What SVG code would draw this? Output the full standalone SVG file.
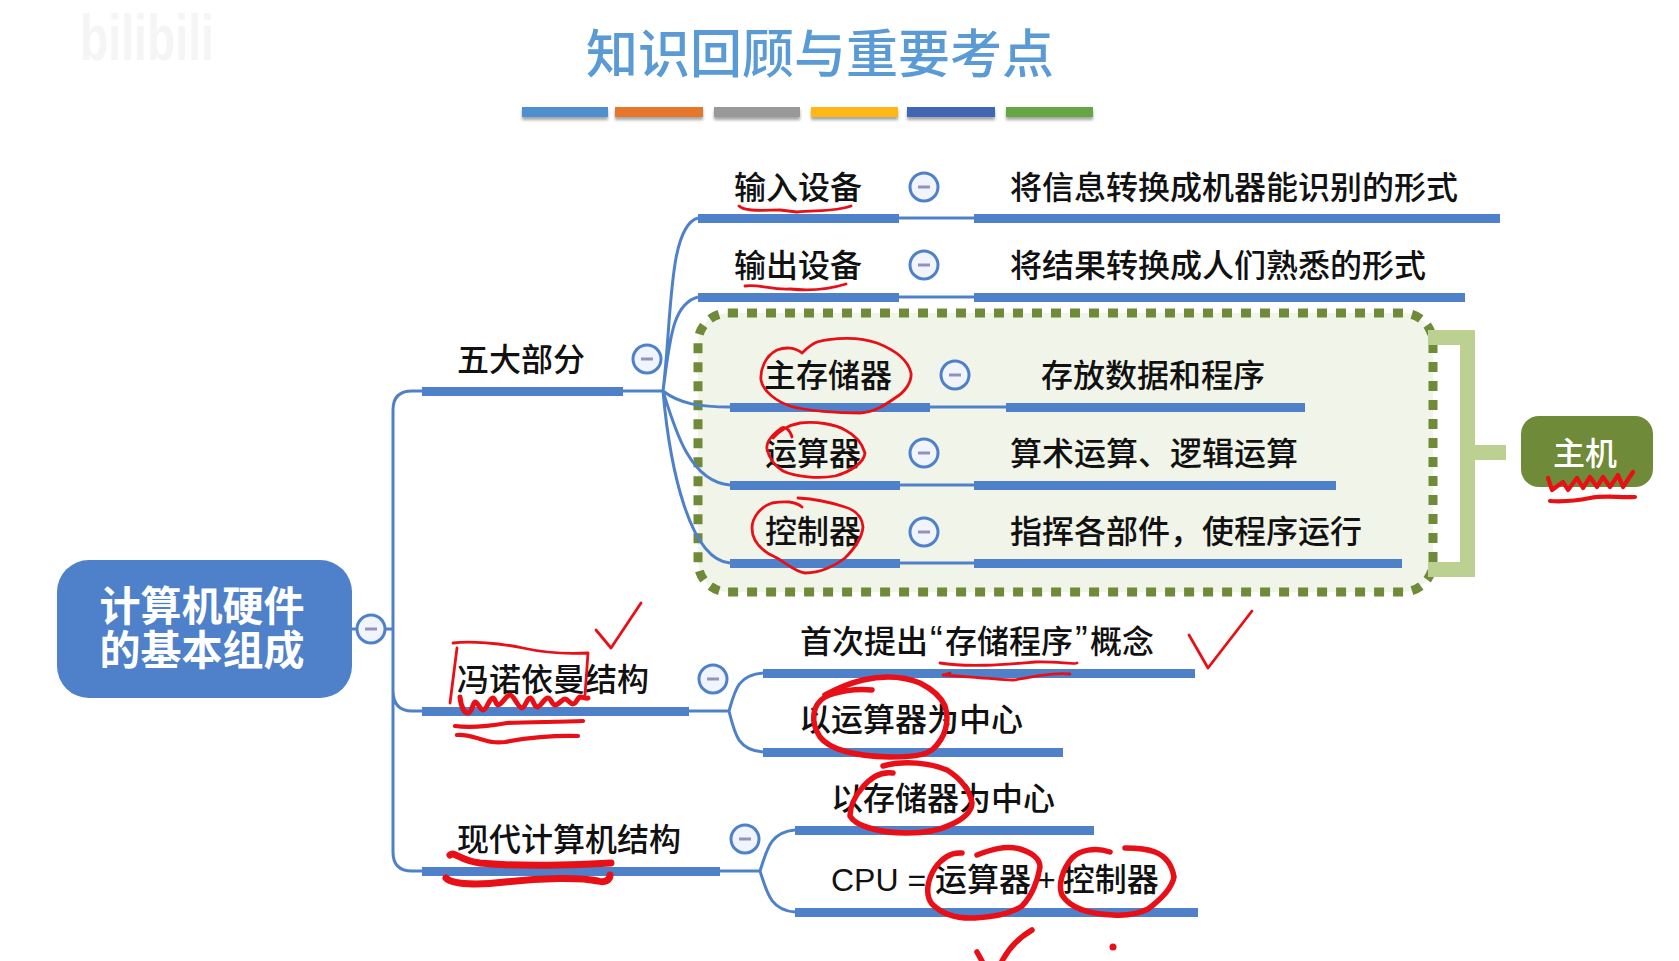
<svg xmlns="http://www.w3.org/2000/svg" width="1679" height="961" viewBox="0 0 1679 961">
<defs>
<filter id="sh" x="-5%" y="-50%" width="110%" height="220%"><feDropShadow dx="0" dy="3" stdDeviation="1.5" flood-color="#000" flood-opacity="0.35"/></filter>
<g id="minus"><circle r="14" fill="#f1f4fb" stroke="#4f81ca" stroke-width="3"/><rect x="-6" y="-1.5" width="12" height="3" fill="#8f93bd"/></g>
</defs>
<style>
text{font-family:"Noto Sans CJK SC","Liberation Sans",sans-serif;font-size:32px;font-weight:500;fill:#111}
.t{fill:#5b9bd5;font-size:52px}
.q{font-family:"Liberation Sans",sans-serif;font-size:38px}
.bar{fill:#4f81ca}
.c{fill:none;stroke:#4f81ca;stroke-width:3}
.r{fill:none;stroke:#e80f16;stroke-width:2.8;stroke-linecap:round;stroke-linejoin:round}
.r3{fill:none;stroke:#e80f16;stroke-width:4.2;stroke-linecap:round;stroke-linejoin:round}
.r2{fill:none;stroke:#e80f16;stroke-width:5.5;stroke-linecap:round;stroke-linejoin:round}
.b{fill:#bcd092}
</style>
<rect width="1679" height="961" fill="#fff"/>
<text x="80" y="60" style="font-family:'Liberation Sans',sans-serif;font-size:64px;font-weight:700;fill:#f5f5f5" textLength="134" lengthAdjust="spacingAndGlyphs">bilibili</text>
<g id="title"><text class="t" x="586" y="73">知识回顾与重要考点</text>
<g filter="url(#sh)"><rect x="522" y="107" width="86" height="10" fill="#4f8fcf"/><rect x="615" y="107" width="88" height="10" fill="#e6762c"/><rect x="714" y="107" width="86" height="10" fill="#999"/><rect x="811" y="107" width="87" height="10" fill="#fdb813"/><rect x="907" y="107" width="88" height="10" fill="#3f66b5"/><rect x="1006" y="107" width="87" height="10" fill="#66a645"/></g></g>
<g id="host-group"><rect x="698" y="313" width="735" height="279" rx="30" fill="#f1f5e9" stroke="#6f8a38" stroke-width="9" stroke-dasharray="10 9"/></g>
<g id="connectors">
<path class="c" d="M352 629H393M422 391H412Q393 391 393 410V852Q393 871 412 871H422M393 690Q393 711 412 711H422"/>
<path class="c" d="M623 391H663M663 391C672 320 668 226 698 218M663 391C670 340 672 304 698 297M663 391C680 404 700 407 730 407M663 391C675 430 690 482 730 485M663 391C670 470 690 560 730 563"/>
<path class="c" d="M899 218H974M899 297H974M930 407H1006M900 485H974M899 563H974"/>
<path class="c" d="M689 711H729M729 711C735 690 738 675 763 673M729 711C735 735 738 750 763 752M720 871H760M760 871C767 850 770 832 795 830M760 871C767 892 770 910 795 912"/>
</g>
<g id="bracket"><path class="b" d="M1428 330H1475V445H1506V460H1475V577H1428V562H1460V345H1428Z"/></g>
<g id="root"><rect x="57" y="560" width="295" height="138" rx="32" fill="#4f81ca"/><text text-anchor="middle" style="font-size:41px;font-weight:700;fill:#fff"><tspan x="202" y="621">计算机硬件</tspan><tspan x="202" y="665">的基本组成</tspan></text><use href="#minus" x="371" y="629"/></g>
<g id="n-five"><rect class="bar" x="422" y="387" width="201" height="9"/><text x="457" y="371">五大部分</text><use href="#minus" x="647" y="359"/></g>
<g id="n-input"><rect class="bar" x="698" y="214" width="201" height="9"/><text x="734" y="199">输入设备</text><use href="#minus" x="924" y="187"/></g>
<g id="n-input-d"><rect class="bar" x="974" y="214" width="526" height="9"/><text x="1010" y="199">将信息转换成机器能识别的形式</text></g>
<g id="n-output"><rect class="bar" x="698" y="293" width="201" height="9"/><text x="734" y="277">输出设备</text><use href="#minus" x="924" y="265"/></g>
<g id="n-output-d"><rect class="bar" x="974" y="293" width="491" height="9"/><text x="1010" y="277">将结果转换成人们熟悉的形式</text></g>
<g id="n-mem"><rect class="bar" x="730" y="403" width="200" height="9"/><text x="764" y="387">主存储器</text><use href="#minus" x="955" y="375"/></g>
<g id="n-mem-d"><rect class="bar" x="1006" y="403" width="299" height="9"/><text x="1041" y="387">存放数据和程序</text></g>
<g id="n-alu"><rect class="bar" x="730" y="481" width="170" height="9"/><text x="765" y="465">运算器</text><use href="#minus" x="924" y="453"/></g>
<g id="n-alu-d"><rect class="bar" x="974" y="481" width="362" height="9"/><text x="1010" y="465">算术运算、逻辑运算</text></g>
<g id="n-ctl"><rect class="bar" x="730" y="559" width="170" height="9"/><text x="765" y="543">控制器</text><use href="#minus" x="924" y="532"/></g>
<g id="n-ctl-d"><rect class="bar" x="974" y="559" width="428" height="9"/><text x="1010" y="543">指挥各部件，使程序运行</text></g>
<g id="n-host"><rect x="1521" y="416" width="132" height="71" rx="18" fill="#6f8a38"/><text x="1585" y="465" text-anchor="middle" style="fill:#fff">主机</text></g>
<g id="n-von"><rect class="bar" x="422" y="707" width="267" height="9"/><text x="457" y="691">冯诺依曼结构</text><use href="#minus" x="713" y="679"/></g>
<g id="n-von1"><rect class="bar" x="763" y="669" width="432" height="9"/><text x="800" y="653">首次提出<tspan class="q" x="930">“</tspan><tspan x="945">存储程序</tspan><tspan class="q" x="1075">”</tspan><tspan x="1090">概念</tspan></text></g>
<g id="n-von2"><rect class="bar" x="763" y="748" width="300" height="9"/><text x="799" y="731">以运算器为中心</text></g>
<g id="n-mod"><rect class="bar" x="422" y="867" width="298" height="9"/><text x="457" y="851">现代计算机结构</text><use href="#minus" x="745" y="839"/></g>
<g id="n-mod1"><rect class="bar" x="795" y="826" width="299" height="9"/><text x="831" y="810">以存储器为中心</text></g>
<g id="n-mod2"><rect class="bar" x="795" y="908" width="403" height="9"/><text x="831" y="891" style="font-family:'Liberation Sans','Noto Sans CJK SC',sans-serif">CPU = 运算器<tspan dx="6">+</tspan><tspan dx="7">控制器</tspan></text></g>
<g id="ink">
<path class="r" d="M739 206C745 212 765 210 780 210L797 212C815 210 835 212 851 206"/>
<path class="r" d="M745 286C760 284 770 290 790 289C810 291 830 289 846 284"/>
<path class="r" d="M802 353C795 347 785 347 777 350C765 356 760 370 761 380C763 392 778 402 790 406C805 411 840 413 860 413C875 412 885 405 895 398C905 392 912 382 911 373C908 360 895 350 877 343C860 337 835 337 817 342C810 345 805 350 802 353"/>
<path class="r" d="M792 437C790 430 785 425 780 429C772 435 766 442 767 449C769 458 775 466 783 471C795 477 820 479 835 476C850 472 864 463 865 453C862 443 855 435 845 430C835 424 815 421 800 423C788 425 778 432 773 438"/>
<path class="r" d="M802 507C795 501 785 501 772 503C760 507 752 518 752 528C752 540 760 550 775 557C785 562 795 572 805 573C820 573 835 566 845 558C855 548 862 538 863 527C862 517 855 510 845 507C830 502 815 499 798 498"/>
<path class="r3" d="M1548 478L1552 490L1563 482L1568 490L1577 478L1583 488L1590 477L1597 487L1603 477L1610 487L1618 475L1623 487L1633 472"/>
<path class="r3" d="M1550 501C1565 502 1580 500 1590 498C1605 495 1620 498 1635 497"/>
<path class="r" d="M596 630L611 648L641 603"/>
<path class="r" d="M453 643C470 641 500 643 523 648C545 653 570 654 588 653L585 695M457 648L450 703"/>
<path class="r3" style="stroke-width:5" d="M460 697C461 706 464 713 468 713C472 713 473 702 475 702C478 702 480 710 483 710C487 710 489 698 493 698C495 698 496 705 498 705C502 705 506 695 510 695C514 695 518 708 522 708C525 708 527 698 530 698C533 698 534 707 537 707C541 707 544 698 548 698C551 698 552 705 555 705C559 705 562 699 565 699C568 699 570 704 573 704C576 704 578 697 580 697C583 697 586 699 588 698"/>
<path class="r3" d="M455 726C470 728 490 726 507 723C530 722 560 722 583 721"/>
<path class="r3" d="M457 735C465 734 473 737 480 739C490 742 495 743 505 742C525 738 555 735 578 736"/>
<path class="r2" style="stroke-width:7" d="M450 855C455 851 458 860 480 863C520 867 580 865 611 863M446 878C452 885 480 885 505 882C540 878 580 877 598 881C605 883 610 880 610 875"/>
<path class="r" d="M940 663C970 668 1010 664 1035 662C1055 661 1075 665 1077 663"/>
<path class="r" d="M944 675L950 673M943 675C960 676 990 679 1013 680C1030 678 1050 672 1070 674"/>
<path class="r" d="M1189 635L1208 668L1252 611"/>
<path class="r2" d="M872 690C855 688 835 692 825 697C812 705 810 722 820 737C830 750 855 756 890 757C910 757 925 756 933 749C945 738 950 722 945 706C940 695 930 688 920 683C905 677 885 675 863 680C850 683 838 688 825 695"/>
<path class="r2" d="M893 773C880 771 870 778 862 788C854 797 850 808 850 816C855 826 880 833 907 833C925 833 940 830 950 825C962 820 972 812 972 803C970 790 960 778 947 770C930 763 905 760 883 766"/>
<path class="r2" d="M962 853C950 852 942 858 935 868C927 880 925 895 932 904C942 914 955 919 975 918C995 917 1012 913 1022 906C1032 896 1038 880 1040 867C1040 858 1030 852 1020 849C1005 845 990 850 977 855"/>
<path class="r2" d="M1110 852C1095 847 1080 850 1072 858C1062 870 1058 885 1062 895C1070 908 1090 914 1113 915C1130 916 1140 913 1148 909C1160 900 1172 888 1174 877C1172 865 1165 856 1155 852C1145 848 1135 848 1125 848"/>
<path class="r2" d="M1032 930C1018 938 1008 950 1002 961M977 952L982 961"/>
<circle cx="1113" cy="947" r="3.5" fill="#e80f16"/>
</g>
</svg>
